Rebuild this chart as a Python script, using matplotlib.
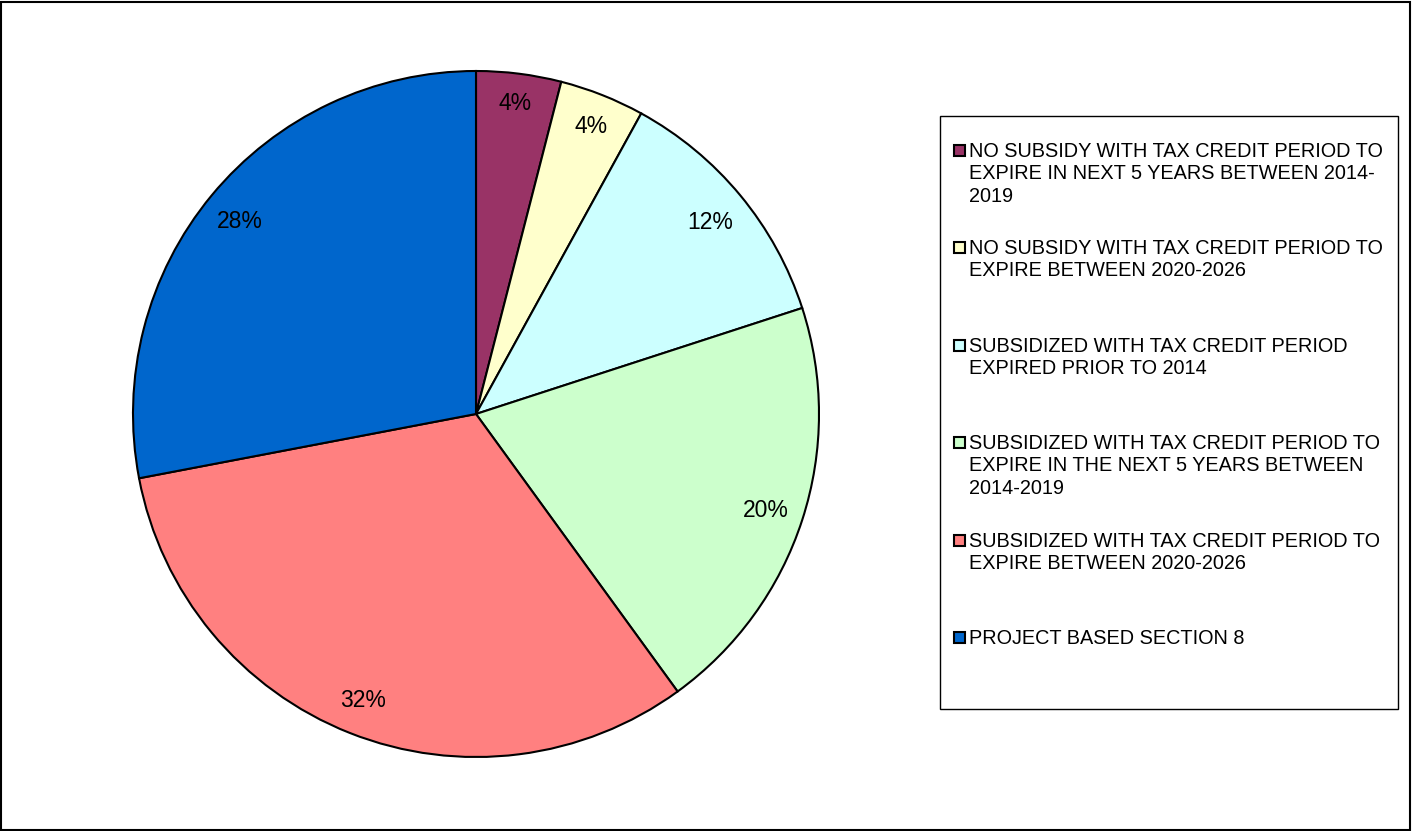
import matplotlib
matplotlib.use("Agg")
import numpy as np
import matplotlib.pyplot as plt
from matplotlib.patches import Rectangle

plt.rcParams['font.family'] = ['Liberation Sans', 'DejaVu Sans']

labels = [
    "NO SUBSIDY WITH TAX CREDIT PERIOD TO\nEXPIRE IN NEXT 5 YEARS BETWEEN 2014-\n2019",
    "NO SUBSIDY WITH TAX CREDIT PERIOD TO\nEXPIRE BETWEEN 2020-2026",
    "SUBSIDIZED WITH TAX CREDIT PERIOD\nEXPIRED PRIOR TO 2014",
    "SUBSIDIZED WITH TAX CREDIT PERIOD TO\nEXPIRE IN THE NEXT 5 YEARS BETWEEN\n2014-2019",
    "SUBSIDIZED WITH TAX CREDIT PERIOD TO\nEXPIRE BETWEEN 2020-2026",
    "PROJECT BASED SECTION 8",
]
values = [4, 4, 12, 20, 32, 28]
colors = ["#993366", "#FFFFCC", "#CCFFFF", "#CCFFCC", "#FF8080", "#0066CC"]
label_radius = [0.92, 0.91, 0.887, 0.887, 0.892, 0.892]

W, H = 1412, 831
fig = plt.figure(figsize=(W / 100, H / 100), dpi=100)

cx, cy, r = 476, 414, 343
ax = fig.add_axes([(cx - r) / W, (H - cy - r) / H, 2 * r / W, 2 * r / H])
wedges, texts, autotexts = ax.pie(
    values, colors=colors, startangle=90, counterclock=False,
    autopct='%1.0f%%', pctdistance=0.9,
    wedgeprops=dict(edgecolor='black', linewidth=1.5),
    textprops=dict(fontsize=16.5, color='black'))
for w, t, lr in zip(wedges, autotexts, label_radius):
    ang = np.deg2rad((w.theta1 + w.theta2) / 2)
    t.set_position((lr * np.cos(ang), lr * np.sin(ang)))
    t.set_va('center_baseline')
ax.set_aspect('equal')
ax.set_xlim(-1, 1)
ax.set_ylim(-1, 1)
ax.axis('off')

# legend box
lx0, ly0, lx1, ly1 = 940, 116, 1398, 709
fig.patches.append(Rectangle((lx0 / W, 1 - ly1 / H), (lx1 - lx0) / W, (ly1 - ly0) / H,
                             transform=fig.transFigure, facecolor='white',
                             edgecolor='black', linewidth=1.0))
tops = [144, 241, 339, 436, 534, 631]
for lab, col, t in zip(labels, colors, tops):
    fig.patches.append(Rectangle((954 / W, 1 - (t + 12) / H), 11 / W, 11 / H,
                                 transform=fig.transFigure, facecolor=col,
                                 edgecolor='black', linewidth=1.5))
    fig.text(969 / W, 1 - (t - 2) / H, lab, fontsize=14.3, va='top', ha='left',
             linespacing=1.23)

# outer border
fig.patches.append(Rectangle((1 / W, 1 / H), (W - 3) / W, (H - 3) / H,
                             transform=fig.transFigure, facecolor='none',
                             edgecolor='black', linewidth=1.5))

fig.savefig("out.png", dpi=100)
